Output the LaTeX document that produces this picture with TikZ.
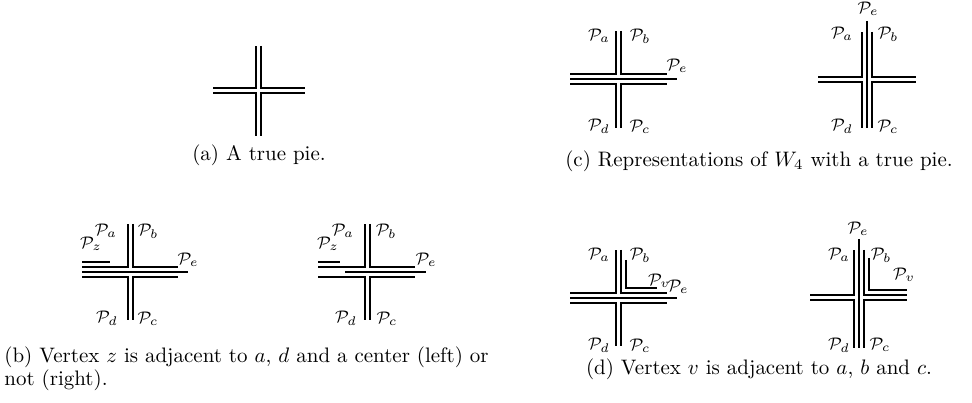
\documentclass[tikz,border=0pt]{standalone}
\begin{document}
\begin{tikzpicture}[x=0.477pt,y=-0.477pt,
  ln/.style={line width=0.95pt},
  lab/.style={font=\footnotesize,inner sep=0pt},
  capt/.style={font=\normalsize,inner sep=0pt}]
\useasboundingbox (0,0) rectangle (972,403);
% ---------- (a)
\draw[ln] (213,88.5) -- (256,88.5) -- (256,46);
\draw[ln] (261,46) -- (261,88.5) -- (305,88.5);
\draw[ln] (213,93.5) -- (256,93.5) -- (256,136);
\draw[ln] (261,136) -- (261,93.5) -- (305,93.5);
\node[capt] (capa) at (259,155) {(a) A true pie.};
% ---------- (c) left
\draw[ln] (570,74) -- (616,74) -- (616,31);
\draw[ln] (621,31) -- (621,74) -- (667,74);
\draw[ln] (570,79) -- (677,79);
\draw[ln] (570,84) -- (616,84) -- (616,128);
\draw[ln] (621,128) -- (621,84) -- (667,84);
\node[lab] (ca) at (599,36) {$\mathcal{P}_a$};
\node[lab] (cb) at (640,36) {$\mathcal{P}_b$};
\node[lab] (ce) at (677,66) {$\mathcal{P}_e$};
\node[lab] (cd) at (599,126) {$\mathcal{P}_d$};
\node[lab] (cc) at (640,127) {$\mathcal{P}_c$};
% ---------- (c) right
\draw[ln] (818,77) -- (862,77) -- (862,32);
\draw[ln] (818,82) -- (862,82) -- (862,128);
\draw[ln] (867,21) -- (867,128);
\draw[ln] (872,32) -- (872,77) -- (916,77);
\draw[ln] (872,128) -- (872,82) -- (916,82);
\node[lab] (c2e) at (868,9) {$\mathcal{P}_e$};
\node[lab] (c2a) at (842,34) {$\mathcal{P}_a$};
\node[lab] (c2b) at (888,34) {$\mathcal{P}_b$};
\node[lab] (c2d) at (842,126) {$\mathcal{P}_d$};
\node[lab] (c2c) at (888,127) {$\mathcal{P}_c$};
\node[capt] (capc) at (759,161) {(c) Representations of $W_4$ with a true pie.};
% ---------- (b) left
\draw[ln] (82,262) -- (110,262);
\draw[ln] (82,267) -- (128,267) -- (128,224);
\draw[ln] (133,224) -- (133,267) -- (178,267);
\draw[ln] (82,272) -- (188,272);
\draw[ln] (82,277) -- (128,277) -- (128,320);
\draw[ln] (133,320) -- (133,277) -- (178,277);
\node[lab] (ba) at (106,231) {$\mathcal{P}_a$};
\node[lab] (bb) at (148,231) {$\mathcal{P}_b$};
\node[lab] (bz) at (91,244) {$\mathcal{P}_z$};
\node[lab] (be) at (188,260) {$\mathcal{P}_e$};
\node[lab] (bd) at (107,318) {$\mathcal{P}_d$};
\node[lab] (bc) at (148,319) {$\mathcal{P}_c$};
% ---------- (b) right
\draw[ln] (318,262) -- (340,262);
\draw[ln] (318,267) -- (365,267) -- (365,224);
\draw[ln] (370,224) -- (370,267) -- (415,267);
\draw[ln] (345,272) -- (426,272);
\draw[ln] (318,277) -- (365,277) -- (365,320);
\draw[ln] (370,320) -- (370,277) -- (415,277);
\node[lab] (b2a) at (343,231) {$\mathcal{P}_a$};
\node[lab] (b2b) at (386,231) {$\mathcal{P}_b$};
\node[lab] (b2z) at (328,244) {$\mathcal{P}_z$};
\node[lab] (b2e) at (426,260) {$\mathcal{P}_e$};
\node[lab] (b2d) at (346,318) {$\mathcal{P}_d$};
\node[lab] (b2c) at (387,319) {$\mathcal{P}_c$};
\node[capt,anchor=west] (capb1) at (4,357) {(b) Vertex $z$ is adjacent to $a$, $d$ and a center (left) or};
\node[capt,anchor=west] (capb2) at (4,380) {not (right).};
% ---------- (d) left
\draw[ln] (626,260) -- (626,288) -- (657,288);
\draw[ln] (570,293) -- (616,293) -- (616,250);
\draw[ln] (621,250) -- (621,293) -- (667,293);
\draw[ln] (570,298) -- (677,298);
\draw[ln] (570,303) -- (616,303) -- (616,346);
\draw[ln] (621,346) -- (621,303) -- (667,303);
\node[lab] (da) at (599,255) {$\mathcal{P}_a$};
\node[lab] (db) at (640,255) {$\mathcal{P}_b$};
\node[lab] (dv) at (659,281) {$\mathcal{P}_v$};
\node[lab] (de) at (678,287) {$\mathcal{P}_e$};
\node[lab] (dd) at (599,345) {$\mathcal{P}_d$};
\node[lab] (dc) at (640,346) {$\mathcal{P}_c$};
% ---------- (d) right
\draw[ln] (869,258) -- (869,290) -- (907,290);
\draw[ln] (810,295) -- (854,295) -- (854,250);
\draw[ln] (810,300) -- (854,300) -- (854,348);
\draw[ln] (859,239) -- (859,348);
\draw[ln] (864,250) -- (864,295) -- (907,295);
\draw[ln] (864,348) -- (864,300) -- (907,300);
\node[lab] (d2e) at (858,229) {$\mathcal{P}_e$};
\node[lab] (d2a) at (839,255) {$\mathcal{P}_a$};
\node[lab] (d2b) at (881,255) {$\mathcal{P}_b$};
\node[lab] (d2v) at (904,275) {$\mathcal{P}_v$};
\node[lab] (d2d) at (839,345) {$\mathcal{P}_d$};
\node[lab] (d2c) at (880,345) {$\mathcal{P}_c$};
\node[capt] (capd) at (759,369) {(d) Vertex $v$ is adjacent to $a$, $b$ and $c$.};
\end{tikzpicture}
\end{document}
